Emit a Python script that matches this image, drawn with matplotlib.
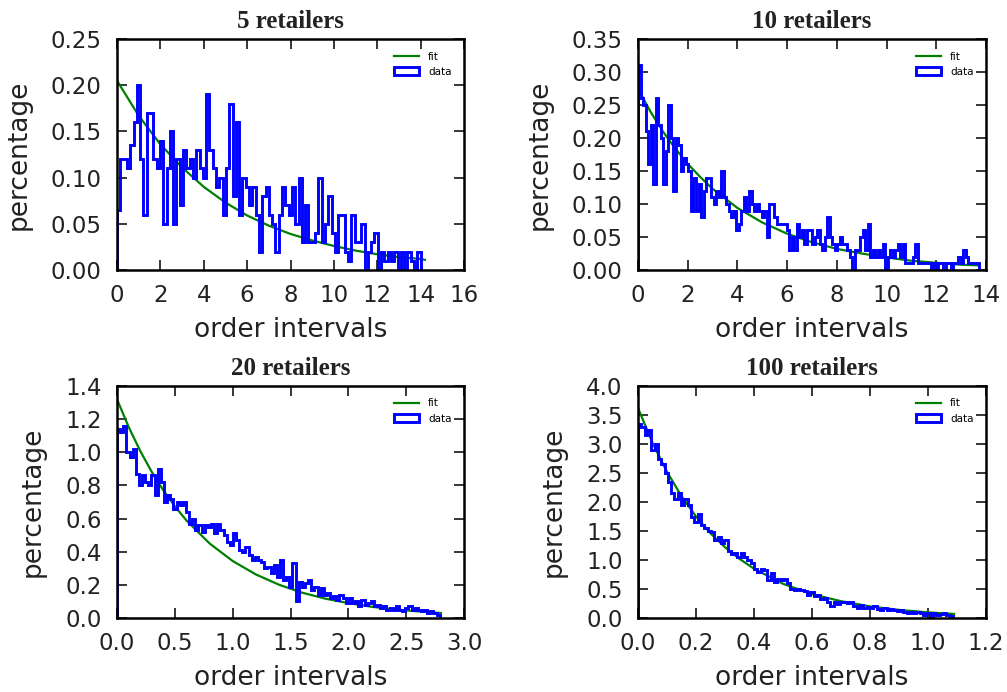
import numpy as np
import matplotlib
matplotlib.use("Agg")
import matplotlib.pyplot as plt

# histogram heights (percentage per bin)
titles = ["5 retailers", "10 retailers", "20 retailers", "100 retailers"]

data_5 = [0.065, 0.12, 0.12, 0.11, 0.135, 0.16, 0.20, 0.12, 0.06, 0.17,
          0.17, 0.12, 0.11, 0.14, 0.05, 0.11, 0.15, 0.05, 0.12, 0.07,
          0.13, 0.11, 0.12, 0.10, 0.13, 0.11, 0.10, 0.19, 0.13, 0.11,
          0.09, 0.10, 0.06, 0.11, 0.18, 0.08, 0.16, 0.06, 0.10, 0.09,
          0.07, 0.09, 0.06, 0.02, 0.08, 0.09, 0.06, 0.05, 0.02, 0.06,
          0.09, 0.07, 0.06, 0.09, 0.05, 0.10, 0.03, 0.07, 0.03, 0.03,
          0.04, 0.10, 0.03, 0.05, 0.08, 0.04, 0.02, 0.06, 0.06, 0.02,
          0.01, 0.06, 0.03, 0.03, 0.05, 0.0, 0.02, 0.03, 0.04, 0.0,
          0.02, 0.01, 0.02, 0.01, 0.02, 0.0, 0.02, 0.0, 0.02, 0.01,
          0.0, 0.02]
data_10 = [0.31, 0.26, 0.25, 0.21, 0.16, 0.22, 0.13, 0.26, 0.22, 0.20,
           0.13, 0.18, 0.25, 0.20, 0.12, 0.20, 0.19, 0.15, 0.17, 0.16,
           0.15, 0.09, 0.14, 0.09, 0.13, 0.08, 0.12, 0.14, 0.14, 0.11,
           0.10, 0.12, 0.11, 0.15, 0.11, 0.10, 0.09, 0.08, 0.09, 0.06,
           0.07, 0.09, 0.11, 0.09, 0.12, 0.10, 0.09, 0.10, 0.09, 0.08,
           0.09, 0.05, 0.10, 0.10, 0.08, 0.07, 0.07, 0.07, 0.07, 0.06,
           0.03, 0.05, 0.03, 0.07, 0.05, 0.06, 0.04, 0.06, 0.06, 0.04,
           0.05, 0.06, 0.04, 0.03, 0.05, 0.08, 0.05, 0.04, 0.03, 0.04,
           0.05, 0.04, 0.04, 0.03, 0.02, 0.0, 0.03, 0.03, 0.05, 0.06,
           0.03, 0.07, 0.02, 0.03, 0.02, 0.03, 0.02, 0.04, 0.0, 0.02,
           0.03, 0.02, 0.03, 0.04, 0.02, 0.04, 0.01, 0.01, 0.01, 0.02,
           0.04, 0.01, 0.01, 0.01, 0.01, 0.01, 0.0, 0.01, 0.0, 0.01,
           0.01, 0.0, 0.01, 0.01, 0.0, 0.01, 0.01, 0.02, 0.01, 0.03,
           0.02, 0.01, 0.01, 0.01, 0.01]
data_20 = [1.14, 1.12, 1.16, 1.00, 0.97, 1.02, 0.87, 0.80, 0.86, 0.82,
           0.80, 0.86, 0.74, 0.90, 0.82, 0.70, 0.74, 0.72, 0.66, 0.70,
           0.68, 0.70, 0.64, 0.57, 0.60, 0.53, 0.56, 0.52, 0.56, 0.55,
           0.57, 0.51, 0.57, 0.53, 0.50, 0.46, 0.44, 0.51, 0.47, 0.41,
           0.40, 0.43, 0.38, 0.35, 0.37, 0.35, 0.34, 0.30, 0.31, 0.27,
           0.32, 0.25, 0.35, 0.23, 0.25, 0.19, 0.33, 0.10, 0.22, 0.19,
           0.21, 0.23, 0.17, 0.19, 0.14, 0.18, 0.14, 0.15, 0.12, 0.13,
           0.11, 0.14, 0.12, 0.09, 0.12, 0.09, 0.10, 0.07, 0.11, 0.08,
           0.09, 0.10, 0.07, 0.08, 0.06, 0.07, 0.05, 0.06, 0.05, 0.07,
           0.05, 0.04, 0.06, 0.07, 0.05, 0.06, 0.05, 0.04, 0.05, 0.03,
           0.04, 0.03, 0.02]
data_100 = [3.35, 3.30, 3.15, 3.25, 2.90, 3.00, 2.75, 2.65, 2.50, 2.35,
            2.15, 2.05, 2.15, 1.95, 2.05, 1.95, 1.75, 1.65, 1.80, 1.60,
            1.55, 1.50, 1.48, 1.35, 1.40, 1.30, 1.35, 1.15, 1.10, 1.12,
            1.05, 1.12, 1.05, 1.00, 0.95, 0.85, 0.80, 0.85, 0.83, 0.65,
            0.78, 0.62, 0.68, 0.65, 0.68, 0.60, 0.50, 0.48, 0.50, 0.48,
            0.46, 0.40, 0.45, 0.38, 0.40, 0.33, 0.35, 0.28, 0.20, 0.28,
            0.25, 0.28, 0.27, 0.26, 0.28, 0.20, 0.18, 0.22, 0.17, 0.19,
            0.18, 0.20, 0.16, 0.14, 0.17, 0.14, 0.15, 0.13, 0.12, 0.14,
            0.10, 0.08, 0.10, 0.09, 0.11, 0.09, 0.05, 0.08, 0.04, 0.09,
            0.05, 0.07, 0.08, 0.06, 0.04]
data_sets = [data_5, data_10, data_20, data_100]
data_max = [14.0, 13.7, 2.79, 1.086]

# fitted curve, sampled by eye
fit_x_5 = [0, 1, 2, 3, 4, 5, 6, 7, 8, 9, 10, 11, 12, 13, 14, 14.2]
fit_y_5 = [0.205, 0.167, 0.136, 0.111, 0.090, 0.073, 0.059, 0.048, 0.039,
           0.032, 0.026, 0.021, 0.017, 0.014, 0.012, 0.011]
fit_x_10 = [0, 0.5, 1, 1.5, 2, 2.5, 3, 4, 5, 6, 7, 8, 9, 10, 11, 12, 13, 13.7]
fit_y_10 = [0.275, 0.240, 0.210, 0.184, 0.161, 0.141, 0.123, 0.094, 0.072,
            0.055, 0.042, 0.032, 0.025, 0.019, 0.014, 0.011, 0.008, 0.007]
fit_x_20 = [0, 0.1, 0.2, 0.3, 0.4, 0.5, 0.6, 0.8, 1.0, 1.2, 1.4, 1.6, 1.8,
            2.0, 2.2, 2.4, 2.6, 2.8]
fit_y_20 = [1.32, 1.154, 1.009, 0.882, 0.771, 0.674, 0.589, 0.450, 0.344,
            0.263, 0.201, 0.153, 0.117, 0.090, 0.068, 0.052, 0.040, 0.030]
fit_x_100 = [0, 0.05, 0.1, 0.15, 0.2, 0.25, 0.3, 0.35, 0.4, 0.5, 0.6, 0.7,
             0.8, 0.9, 1.0, 1.09]
fit_y_100 = [3.62, 3.02, 2.52, 2.10, 1.75, 1.46, 1.22, 1.02, 0.85, 0.59,
             0.41, 0.29, 0.20, 0.14, 0.097, 0.07]
fit_sets = [(fit_x_5, fit_y_5), (fit_x_10, fit_y_10),
            (fit_x_20, fit_y_20), (fit_x_100, fit_y_100)]

xlims = [(0, 16), (0, 14), (0, 3.0), (0, 1.2)]
ylims = [(0, 0.25), (0, 0.35), (0, 1.4), (0, 4.0)]
xsteps = [2, 2, 0.5, 0.2]
ysteps = [0.05, 0.05, 0.2, 0.5]

W, H = 1007, 692
# axes boxes in pixels: left, top, right, bottom
boxes = [(117, 39, 464, 270), (638, 39, 986, 270),
         (117, 386, 464, 618), (638, 386, 986, 618)]

txt = "#222222"
fig = plt.figure(figsize=(W / 100, H / 100), dpi=100)

for i in range(4):
    l, t, r, b = boxes[i]
    ax = fig.add_axes([l / W, 1 - b / H, (r - l) / W, (b - t) / H])
    vals = data_sets[i]
    edges = np.linspace(0, data_max[i], len(vals) + 1)
    fx, fy = fit_sets[i]
    fline, = ax.plot(fx, fy, color=(0, 0.5, 0), lw=1.6, label="fit")
    _, _, patches = ax.hist(edges[:-1], bins=edges, weights=vals,
                            histtype="step", color=(0, 0, 1), lw=2.1,
                            label="data")
    ax.set_xlim(*xlims[i])
    ax.set_ylim(*ylims[i])
    ax.set_xticks(np.arange(xlims[i][0], xlims[i][1] + 1e-9, xsteps[i]))
    ax.set_yticks(np.arange(ylims[i][0], ylims[i][1] + 1e-9, ysteps[i]))
    ax.tick_params(direction="in", top=True, right=True, length=7,
                   width=1.1, labelsize=16.5, labelcolor=txt)
    ax.tick_params(axis="x", pad=10)
    ax.tick_params(axis="y", pad=11)
    for s in ax.spines.values():
        s.set_linewidth(1.8)
    ax.set_title(titles[i], family="Liberation Serif", fontweight="bold",
                 fontsize=18, pad=8, color=txt)
    ax.set_xlabel("order intervals", fontsize=19, color=txt, labelpad=7)
    ax.set_ylabel("percentage", fontsize=19, color=txt, labelpad=14)
    ax.legend([fline, patches[0]], ["fit", "data"], loc="upper right",
              frameon=False, fontsize=7.5, handlelength=2.4,
              handleheight=0.9, handletextpad=0.9, borderaxespad=0.8,
              labelspacing=0.5)

fig.savefig("out.png", dpi=100)
